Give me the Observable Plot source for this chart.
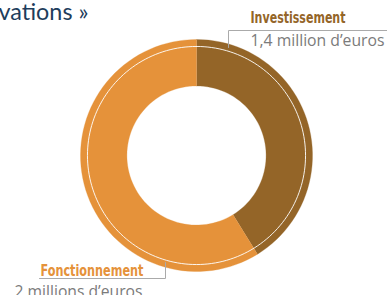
<!DOCTYPE html>
<html>
<head>
<meta charset="utf-8">
<script src="https://cdn.jsdelivr.net/npm/d3@7"></script>
<script src="https://cdn.jsdelivr.net/npm/@observablehq/plot@0.6"></script>
<style>
  html, body { margin: 0; padding: 0; background: #fff; overflow: hidden; }
  #chart svg { display: block; }
</style>
</head>
<body>
<div id="chart"></div>
<script>
// ---- data ----
const categories = ["Investissement", "Fonctionnement"];
const values = [1.4, 2.0];             // millions d'euros
const valueLabels = ["1,4 million d’euros", "2 millions d’euros"];
const colors = ["#946528", "#E5923A"];
const titleText = "vations »";

// ---- layout constants ----
const W = 387, H = 295;
const cx = 196, cy = 155, R = 116;    // donut placement in pixels
const innerRatio = 0.6, ringRatio = 0.94;

// pie angles (clockwise from 12 o'clock)
const total = d3.sum(values);
let acc = 0;
const slices = categories.map((c, i) => {
  const a0 = acc / total * 2 * Math.PI;
  acc += values[i];
  const a1 = acc / total * 2 * Math.PI;
  return {cat: c, a0, a1};
});

const arcPts = [];
const steps = 120;
for (const s of slices) {
  const n = Math.max(2, Math.ceil(steps * (s.a1 - s.a0) / (2 * Math.PI)));
  for (let k = 0; k <= n; k++) {
    const a = s.a0 + (s.a1 - s.a0) * k / n;
    arcPts.push({cat: s.cat, x: Math.sin(a), y: Math.cos(a)});
  }
  for (let k = n; k >= 0; k--) {
    const a = s.a0 + (s.a1 - s.a0) * k / n;
    arcPts.push({cat: s.cat, x: innerRatio * Math.sin(a), y: innerRatio * Math.cos(a)});
  }
}
const ringPts = d3.range(0, 181).map(k => {
  const a = k / 180 * 2 * Math.PI;
  return {x: ringRatio * Math.sin(a), y: ringRatio * Math.cos(a)};
});

// callout lines in donut units
const px = v => (v - cx) / R, py = v => (cy - v) / R;
const callouts = [
  {id: "top", pts: [[228, 47], [228, 30], [387, 30]]},
  {id: "bottom", pts: [[39, 278], [165, 278], [165, 262]]}
].flatMap(c => c.pts.map(([a, b]) => ({id: c.id, x: px(a), y: py(b)})));

const condensed = "'Liberation Sans Narrow', 'DejaVu Sans Condensed', sans-serif";
const regular = "'Open Sans', 'Noto Sans', sans-serif";

// target text widths (px) to emulate the narrow original typeface
const textWidths = new Map([
  [titleText, 90],
  [categories[0], 95],
  [valueLabels[0], 134],
  [categories[1], 103],
  [valueLabels[1], 128]
]);

const chart = Plot.plot({
  width: W, height: H,
  margin: 0,
  x: {domain: [-1, 1], range: [cx - R, cx + R], axis: null},
  y: {domain: [-1, 1], range: [cy + R, cy - R], axis: null},
  color: {domain: categories, range: colors},
  style: {background: "#fff", overflow: "hidden"},
  marks: [
    Plot.line(arcPts, {x: "x", y: "y", z: "cat", fill: "cat", stroke: "cat", strokeWidth: 0.3, curve: "linear"}),
    Plot.line(ringPts, {x: "x", y: "y", stroke: "#fff", strokeWidth: 1, strokeOpacity: 0.9}),
    Plot.line(callouts, {x: "x", y: "y", z: "id", stroke: "#aaaaaa", strokeWidth: 1}),
    Plot.text([titleText], {frameAnchor: "top-left", dx: -2, dy: 2, lineAnchor: "top", textAnchor: "start",
      text: d => d, fill: "#1e3d5c", fontSize: 24, fontWeight: 400, fontFamily: "Lato, sans-serif"}),
    Plot.text([categories[0]], {frameAnchor: "top-left", dx: 250, dy: 11.6, lineAnchor: "top", textAnchor: "start",
      text: d => d, fill: colors[0], fontSize: 16, fontWeight: "bold", fontFamily: condensed}),
    Plot.text([valueLabels[0]], {frameAnchor: "top-left", dx: 250, dy: 33, lineAnchor: "top", textAnchor: "start",
      text: d => d, fill: "#7b7b7b", fontSize: 17, fontFamily: regular}),
    Plot.text([categories[1]], {frameAnchor: "top-left", dx: 40, dy: 263.3, lineAnchor: "top", textAnchor: "start",
      text: d => d, fill: colors[1], fontSize: 16.5, fontWeight: "bold", fontFamily: condensed}),
    Plot.text([valueLabels[1]], {frameAnchor: "top-left", dx: 14, dy: 284, lineAnchor: "top", textAnchor: "start",
      text: d => d, fill: "#7b7b7b", fontSize: 17, fontFamily: regular})
  ]
});
d3.select(chart).selectAll("text").each(function () {
  const w = textWidths.get(this.textContent);
  if (w) {
    this.setAttribute("textLength", w);
    this.setAttribute("lengthAdjust", "spacingAndGlyphs");
  }
});
document.getElementById("chart").append(chart);
</script>
</body>
</html>
